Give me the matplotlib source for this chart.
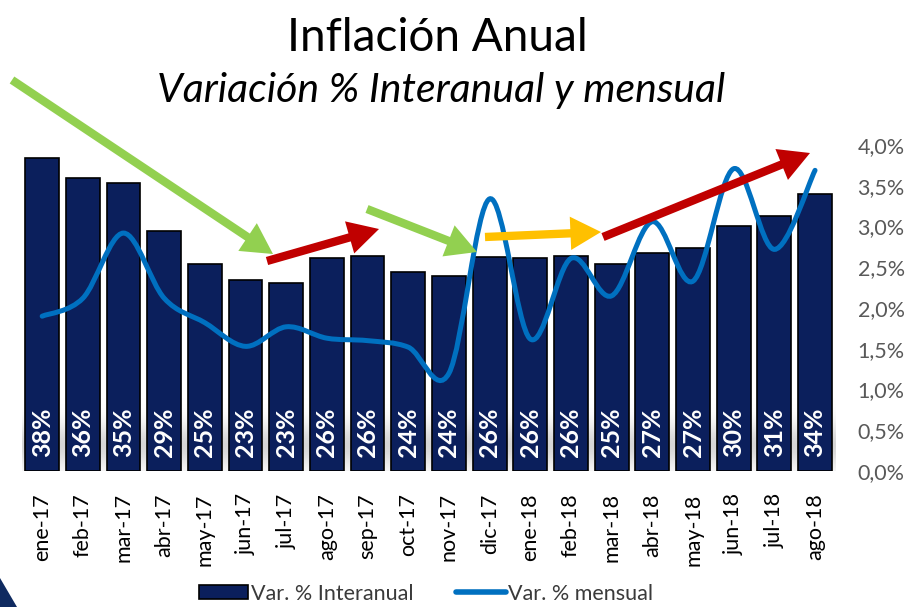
"""
Inflación anual: barras interanuales + línea mensual suavizada.
"""

import matplotlib
matplotlib.use("Agg")
import matplotlib.pyplot as plt
import numpy as np
from matplotlib.lines import Line2D
from matplotlib.patches import FancyArrowPatch, Patch, PathPatch, Polygon
from matplotlib.path import Path
from matplotlib.ticker import FuncFormatter, MultipleLocator

# --- data -------------------------------------------------------------------
months = ["ene-17", "feb-17", "mar-17", "abr-17", "may-17", "jun-17", "jul-17",
          "ago-17", "sep-17", "oct-17", "nov-17", "dic-17", "ene-18", "feb-18",
          "mar-18", "abr-18", "may-18", "jun-18", "jul-18", "ago-18"]
interanual = [38.4, 36.0, 35.4, 29.4, 25.4, 23.4, 23.1, 26.2, 26.4, 24.4,
              23.9, 26.3, 26.1, 26.4, 25.4, 26.8, 27.4, 30.1, 31.3, 34.0]
mensual = [1.90, 2.12, 2.92, 2.12, 1.82, 1.53, 1.77, 1.63, 1.60, 1.52,
           1.20, 3.34, 1.62, 2.61, 2.15, 3.06, 2.33, 3.71, 2.72, 3.69]

NAVY = "#0b1f5c"
BLUE = "#0070c0"
GREY = "#595959"
FONT = ["Lato", "DejaVu Sans"]

W, H = 910, 607
fig = plt.figure(figsize=(W / 100, H / 100), dpi=100)

ax = fig.add_axes([0.024, 0.224, 0.894, 0.537])
ax2 = ax.twinx()
x = np.arange(len(months))

# faint grey "floor" reflection behind the bars
grad = np.zeros((64, 2, 4))
t = np.linspace(0, 1, 64)[:, None]          # 0 at bottom, 1 at top
grad[..., :3] = 0.6
grad[..., 3] = 0.4 * np.exp(-((t - 0.35) / 0.3) ** 2)
ax.imshow(grad, extent=(-0.6, len(months) - 0.4, 0, 9.0), origin="lower",
          aspect="auto", zorder=0, interpolation="bicubic")

ax.bar(x, interanual, width=0.83, color=NAVY, edgecolor="black",
       linewidth=1.2, zorder=2)
for xi, v in zip(x, interanual):
    ax.annotate(f"{v:.0f}%", (xi, 0), xytext=(0, 10), textcoords="offset points",
                rotation=90, ha="center", va="bottom", color="white",
                fontsize=18, fontweight="bold", family=FONT, zorder=3)

ax.set_xlim(-0.5, len(months) - 0.5)
ax.set_ylim(0, 40)
ax.set_yticks([])
ax.patch.set_visible(False)
ax.set_xticks(x)
ax.set_xticklabels(months, rotation=90, fontsize=15.5, family=FONT)
ax.tick_params(axis="x", length=0, pad=16)

# smoothed monthly line (Catmull-Rom -> cubic Bezier)
pts = np.column_stack([x, mensual]).astype(float)
ext = np.vstack([pts[0], pts, pts[-1]])
verts = [pts[0]]
codes = [Path.MOVETO]
for i in range(len(pts) - 1):
    p0, p1, p2, p3 = ext[i], ext[i + 1], ext[i + 2], ext[i + 3]
    verts += [p1 + (p2 - p0) / 6, p2 - (p3 - p1) / 6, p2]
    codes += [Path.CURVE4] * 3
ax2.add_patch(PathPatch(Path(verts, codes), facecolor="none", edgecolor=BLUE,
                        linewidth=3.6, capstyle="round", zorder=4))

ax2.set_ylim(0, 4)
ax2.yaxis.set_major_locator(MultipleLocator(0.5))
ax2.yaxis.set_major_formatter(FuncFormatter(lambda v, _: f"{v:.1f}%".replace(".", ",")))
ax2.tick_params(axis="y", length=0, pad=16, labelsize=15.5, labelcolor=GREY)
for lab in ax2.get_yticklabels():
    lab.set_family(FONT)

for a in (ax, ax2):
    for s in a.spines.values():
        s.set_visible(False)

# titles
fig.text(0.481, 0.937, "Inflación Anual", ha="center", va="center",
         fontsize=33, family=FONT)
fig.text(0.485, 0.851, "Variación % Interanual y mensual", ha="center",
         va="center", fontsize=29.5, style="italic", family=FONT)

# trend arrows (reference pixel positions: start -> tip)
arrows = [((12, 80), (273, 254), "#92d050"),
          ((267, 261), (379, 229), "#c00000"),
          ((367, 209), (477, 252), "#92d050"),
          ((485, 237), (601, 232), "#ffc000"),
          ((603, 237), (810, 153), "#c00000")]
for (x0, y0), (x1, y1), col in arrows:
    fig.patches.append(FancyArrowPatch(
        (x0 / W, 1 - y0 / H), (x1 / W, 1 - y1 / H), transform=fig.transFigure,
        arrowstyle="simple,head_length=1.1,head_width=1.2,tail_width=0.3",
        mutation_scale=20, color=col, linewidth=0, shrinkA=0, shrinkB=0,
        capstyle="round", zorder=6))

# legend
handles = [Patch(facecolor=NAVY, edgecolor="black", linewidth=1.2),
           Line2D([], [], color=BLUE, linewidth=4, solid_capstyle="round")]
fig.legend(handles, ["Var. % Interanual", "Var. % mensual"], loc="center",
           bbox_to_anchor=(0.468, 0.022), ncol=2, frameon=False,
           prop={"family": FONT, "size": 15.5},
           handlelength=2.3, handleheight=0.6, handletextpad=0.12,
           columnspacing=2.0, labelcolor="#3a3a3a")

# slide corner decoration
fig.patches.append(Polygon([(0, 1 - 578 / H), (17 / W, 0), (0, 0)],
                           closed=True, transform=fig.transFigure,
                           facecolor="#0f2a60", edgecolor="none"))

fig.savefig("out.png", dpi=100)
